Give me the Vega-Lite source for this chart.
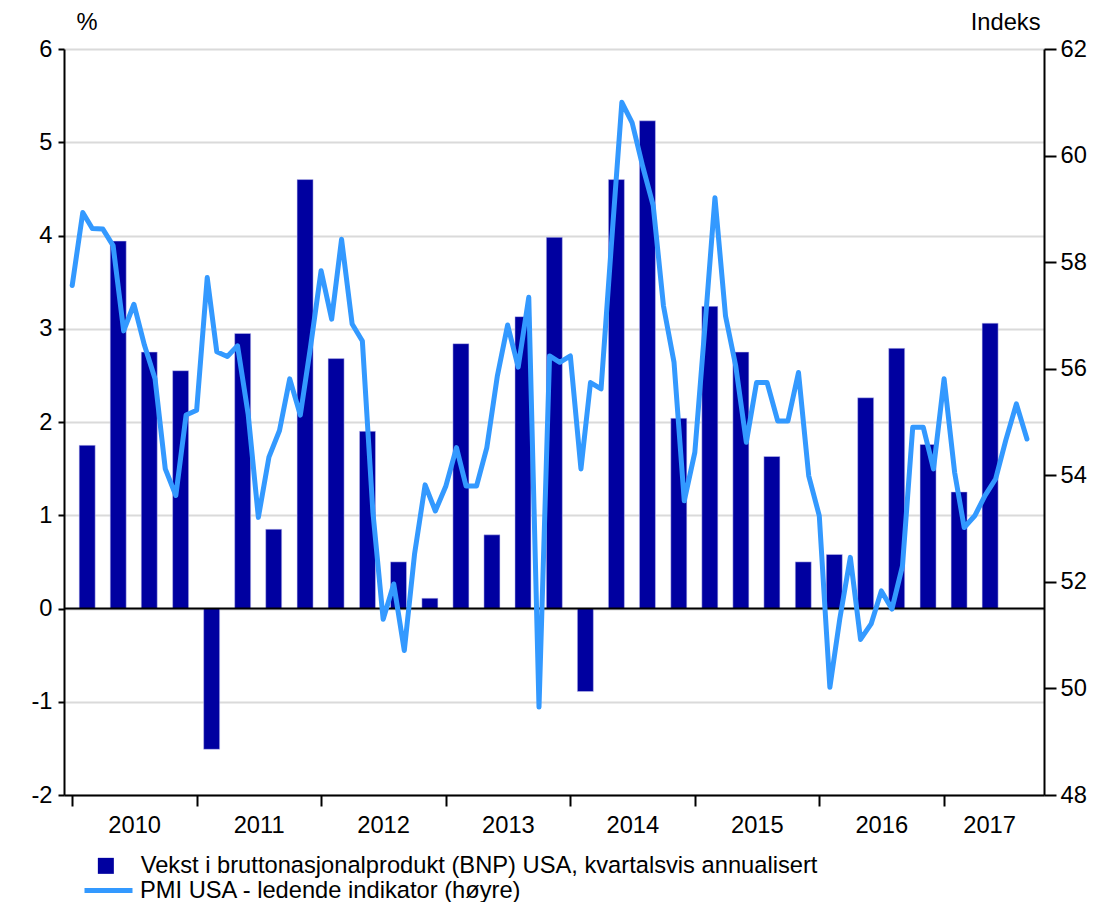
{
  "$schema": "https://vega.github.io/schema/vega-lite/v6.json",
  "width": 980,
  "height": 746,
  "autosize": {"type": "none"},
  "padding": {"left": 64, "top": 49, "right": 51, "bottom": 107},
  "background": "white",
  "config": {
    "view": {"stroke": null},
    "font": "Liberation Sans",
    "axis": {"labelFont": "Liberation Sans", "labelFontSize": 23.7, "labelColor": "black", "titleFont": "Liberation Sans", "titleFontSize": 23.7, "titleFontWeight": "normal", "titleColor": "black", "domainColor": "black", "domainWidth": 2, "tickColor": "black", "tickWidth": 2},
    "legend": {"labelFont": "Liberation Sans", "labelFontSize": 23.7, "labelColor": "black", "padding": 0, "labelLimit": 1000}
  },
  "datasets": {
    "gdp": [
      {"date": "2010-02-14", "bnp": 1.75}, {"date": "2010-05-16", "bnp": 3.94}, {"date": "2010-08-15", "bnp": 2.75}, {"date": "2010-11-15", "bnp": 2.55},
      {"date": "2011-02-14", "bnp": -1.51}, {"date": "2011-05-16", "bnp": 2.95}, {"date": "2011-08-15", "bnp": 0.85}, {"date": "2011-11-15", "bnp": 4.6},
      {"date": "2012-02-14", "bnp": 2.68}, {"date": "2012-05-16", "bnp": 1.9}, {"date": "2012-08-15", "bnp": 0.5}, {"date": "2012-11-15", "bnp": 0.11},
      {"date": "2013-02-14", "bnp": 2.84}, {"date": "2013-05-16", "bnp": 0.79}, {"date": "2013-08-15", "bnp": 3.13}, {"date": "2013-11-15", "bnp": 3.98},
      {"date": "2014-02-14", "bnp": -0.89}, {"date": "2014-05-16", "bnp": 4.6}, {"date": "2014-08-15", "bnp": 5.23}, {"date": "2014-11-15", "bnp": 2.04},
      {"date": "2015-02-14", "bnp": 3.24}, {"date": "2015-05-16", "bnp": 2.75}, {"date": "2015-08-15", "bnp": 1.63}, {"date": "2015-11-15", "bnp": 0.5},
      {"date": "2016-02-14", "bnp": 0.58}, {"date": "2016-05-16", "bnp": 2.26}, {"date": "2016-08-15", "bnp": 2.79}, {"date": "2016-11-15", "bnp": 1.76},
      {"date": "2017-02-14", "bnp": 1.25}, {"date": "2017-05-16", "bnp": 3.06}
    ],
    "pmi": [
      {"date": "2010-01-01", "pmi": 57.56}, {"date": "2010-02-01", "pmi": 58.93}, {"date": "2010-03-01", "pmi": 58.63}, {"date": "2010-04-01", "pmi": 58.62},
      {"date": "2010-05-01", "pmi": 58.31}, {"date": "2010-06-01", "pmi": 56.71}, {"date": "2010-07-01", "pmi": 57.21}, {"date": "2010-08-01", "pmi": 56.44},
      {"date": "2010-09-01", "pmi": 55.81}, {"date": "2010-10-01", "pmi": 54.12}, {"date": "2010-11-01", "pmi": 53.62}, {"date": "2010-12-01", "pmi": 55.13},
      {"date": "2011-01-01", "pmi": 55.22}, {"date": "2011-02-01", "pmi": 57.71}, {"date": "2011-03-01", "pmi": 56.32}, {"date": "2011-04-01", "pmi": 56.23},
      {"date": "2011-05-01", "pmi": 56.43}, {"date": "2011-06-01", "pmi": 55.15}, {"date": "2011-07-01", "pmi": 53.21}, {"date": "2011-08-01", "pmi": 54.34},
      {"date": "2011-09-01", "pmi": 54.84}, {"date": "2011-10-01", "pmi": 55.81}, {"date": "2011-11-01", "pmi": 55.13}, {"date": "2011-12-01", "pmi": 56.41},
      {"date": "2012-01-01", "pmi": 57.84}, {"date": "2012-02-01", "pmi": 56.93}, {"date": "2012-03-01", "pmi": 58.43}, {"date": "2012-04-01", "pmi": 56.84},
      {"date": "2012-05-01", "pmi": 56.52}, {"date": "2012-06-01", "pmi": 53.3}, {"date": "2012-07-01", "pmi": 51.3}, {"date": "2012-08-01", "pmi": 51.96},
      {"date": "2012-09-01", "pmi": 50.71}, {"date": "2012-10-01", "pmi": 52.52}, {"date": "2012-11-01", "pmi": 53.82}, {"date": "2012-12-01", "pmi": 53.33},
      {"date": "2013-01-01", "pmi": 53.8}, {"date": "2013-02-01", "pmi": 54.52}, {"date": "2013-03-01", "pmi": 53.8}, {"date": "2013-04-01", "pmi": 53.8},
      {"date": "2013-05-01", "pmi": 54.52}, {"date": "2013-06-01", "pmi": 55.87}, {"date": "2013-07-01", "pmi": 56.82}, {"date": "2013-08-01", "pmi": 56.03},
      {"date": "2013-09-01", "pmi": 57.34}, {"date": "2013-10-01", "pmi": 49.65}, {"date": "2013-11-01", "pmi": 56.24}, {"date": "2013-12-01", "pmi": 56.12},
      {"date": "2014-01-01", "pmi": 56.24}, {"date": "2014-02-01", "pmi": 54.12}, {"date": "2014-03-01", "pmi": 55.74}, {"date": "2014-04-01", "pmi": 55.62},
      {"date": "2014-05-01", "pmi": 58.3}, {"date": "2014-06-01", "pmi": 61.0}, {"date": "2014-07-01", "pmi": 60.62}, {"date": "2014-08-01", "pmi": 59.8},
      {"date": "2014-09-01", "pmi": 59.06}, {"date": "2014-10-01", "pmi": 57.18}, {"date": "2014-11-01", "pmi": 56.12}, {"date": "2014-12-01", "pmi": 53.52},
      {"date": "2015-01-01", "pmi": 54.43}, {"date": "2015-02-01", "pmi": 56.9}, {"date": "2015-03-01", "pmi": 59.21}, {"date": "2015-04-01", "pmi": 56.99},
      {"date": "2015-05-01", "pmi": 56.05}, {"date": "2015-06-01", "pmi": 54.62}, {"date": "2015-07-01", "pmi": 55.74}, {"date": "2015-08-01", "pmi": 55.74},
      {"date": "2015-09-01", "pmi": 55.02}, {"date": "2015-10-01", "pmi": 55.02}, {"date": "2015-11-01", "pmi": 55.93}, {"date": "2015-12-01", "pmi": 53.99},
      {"date": "2016-01-01", "pmi": 53.24}, {"date": "2016-02-01", "pmi": 50.02}, {"date": "2016-03-01", "pmi": 51.3}, {"date": "2016-04-01", "pmi": 52.46},
      {"date": "2016-05-01", "pmi": 50.92}, {"date": "2016-06-01", "pmi": 51.21}, {"date": "2016-07-01", "pmi": 51.83}, {"date": "2016-08-01", "pmi": 51.49},
      {"date": "2016-09-01", "pmi": 52.3}, {"date": "2016-10-01", "pmi": 54.9}, {"date": "2016-11-01", "pmi": 54.9}, {"date": "2016-12-01", "pmi": 54.12},
      {"date": "2017-01-01", "pmi": 55.81}, {"date": "2017-02-01", "pmi": 54.05}, {"date": "2017-03-01", "pmi": 53.02}, {"date": "2017-04-01", "pmi": 53.24},
      {"date": "2017-05-01", "pmi": 53.62}, {"date": "2017-06-01", "pmi": 53.93}, {"date": "2017-07-01", "pmi": 54.66}, {"date": "2017-08-01", "pmi": 55.34},
      {"date": "2017-09-01", "pmi": 54.68}
    ],
    "zero": [{"v": 0}]
  },
  "layer": [
    {
      "layer": [
        {
          "data": {"name": "gdp"},
          "mark": {"type": "bar", "width": 16, "stroke": "#c8c8f0", "strokeWidth": 0.5},
          "encoding": {
            "x": {
              "field": "date", "type": "temporal",
              "scale": {"type": "utc", "padding": 0, "domain": [{"year": 2009, "month": 12, "date": 8, "utc": true}, {"year": 2017, "month": 10, "date": 21, "utc": true}]},
              "axis": {
                "title": null, "grid": false, "orient": "bottom",
                "values": [{"year": 2010, "month": 1, "date": 1, "utc": true}, {"year": 2011, "month": 1, "date": 1, "utc": true}, {"year": 2012, "month": 1, "date": 1, "utc": true}, {"year": 2013, "month": 1, "date": 1, "utc": true}, {"year": 2014, "month": 1, "date": 1, "utc": true}, {"year": 2015, "month": 1, "date": 1, "utc": true}, {"year": 2016, "month": 1, "date": 1, "utc": true}, {"year": 2017, "month": 1, "date": 1, "utc": true}],
                "format": "%Y", "tickSize": 11, "labelPadding": 7, "labelAlign": "center",
                "labelOffset": {"condition": {"test": "utcyear(datum.value) === 2017", "value": 45}, "value": 62},
                "labelBound": false, "labelOverlap": false, "labelFlush": false
              }
            },
            "y": {
              "field": "bnp", "type": "quantitative", "stack": null,
              "scale": {"domain": [-2, 6], "nice": false, "zero": false},
              "axis": {
                "orient": "left", "values": [-2, -1, 0, 1, 2, 3, 4, 5, 6], "labelExpr": "'' + datum.value",
                "grid": true, "gridColor": "#dadada", "gridWidth": 2, "tickSize": 6, "labelPadding": 6,
                "title": "%", "titleAngle": 0, "titleX": 12, "titleY": -27, "titleAlign": "left", "titleBaseline": "middle"
              }
            },
            "fill": {
              "datum": "Vekst i bruttonasjonalprodukt (BNP) USA, kvartalsvis annualisert",
              "scale": {"range": ["#0000a0"]},
              "legend": {"orient": "none", "legendX": 30, "legendY": 805, "title": null, "symbolType": "square", "symbolSize": 256, "symbolStrokeWidth": 0, "labelOffset": 23}
            }
          }
        },
        {
          "data": {"name": "zero"},
          "mark": {"type": "rule", "color": "black", "strokeWidth": 2},
          "encoding": {"y": {"field": "v", "type": "quantitative"}}
        }
      ]
    },
    {
      "data": {"name": "pmi"},
      "mark": {"type": "line", "strokeWidth": 5, "strokeJoin": "round", "strokeCap": "round"},
      "encoding": {
        "x": {"field": "date", "type": "temporal"},
        "y": {
          "field": "pmi", "type": "quantitative",
          "scale": {"domain": [48, 62], "nice": false, "zero": false},
          "axis": {
            "orient": "right", "values": [48, 50, 52, 54, 56, 58, 60, 62], "grid": false, "tickSize": 12, "labelPadding": 4,
            "title": "Indeks", "titleAngle": 0, "titleX": -4, "titleY": -27, "titleAlign": "right", "titleBaseline": "middle"
          }
        },
        "stroke": {
          "datum": "PMI USA - ledende indikator (høyre)",
          "scale": {"range": ["#3399ff"]},
          "legend": {"orient": "none", "legendX": 18, "legendY": 815, "title": null, "symbolType": "stroke", "symbolSize": 2304, "symbolStrokeWidth": 5, "labelOffset": 5}
        }
      }
    }
  ],
  "resolve": {"scale": {"y": "independent"}}
}
